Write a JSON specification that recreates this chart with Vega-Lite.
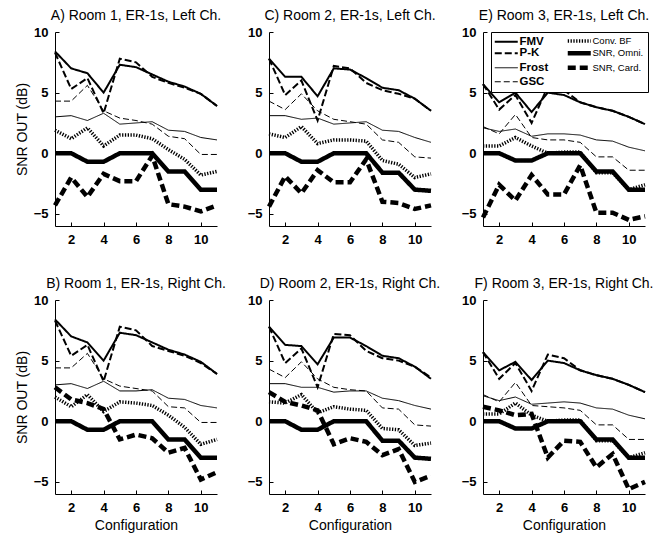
{
"$schema":"https://vega.github.io/schema/vega-lite/v6.json",
"padding":{"left":15,"top":9,"right":5,"bottom":5},
"data":{"values":[
{"p":"A","s":"FMV","x":1,"v":8.4},{"p":"A","s":"FMV","x":2,"v":7.0},{"p":"A","s":"FMV","x":3,"v":6.6},{"p":"A","s":"FMV","x":4,"v":5.0},{"p":"A","s":"FMV","x":5,"v":7.3},{"p":"A","s":"FMV","x":6,"v":7.1},{"p":"A","s":"FMV","x":7,"v":6.5},{"p":"A","s":"FMV","x":8,"v":5.9},{"p":"A","s":"FMV","x":9,"v":5.5},{"p":"A","s":"FMV","x":10,"v":4.9},{"p":"A","s":"FMV","x":11,"v":3.9},
{"p":"A","s":"P-K","x":1,"v":8.3},{"p":"A","s":"P-K","x":2,"v":5.3},{"p":"A","s":"P-K","x":3,"v":6.2},{"p":"A","s":"P-K","x":4,"v":3.3},{"p":"A","s":"P-K","x":5,"v":7.8},{"p":"A","s":"P-K","x":6,"v":7.5},{"p":"A","s":"P-K","x":7,"v":6.3},{"p":"A","s":"P-K","x":8,"v":5.8},{"p":"A","s":"P-K","x":9,"v":5.4},{"p":"A","s":"P-K","x":10,"v":4.9},{"p":"A","s":"P-K","x":11,"v":3.9},
{"p":"A","s":"Frost","x":1,"v":3.0},{"p":"A","s":"Frost","x":2,"v":3.1},{"p":"A","s":"Frost","x":3,"v":2.7},{"p":"A","s":"Frost","x":4,"v":3.3},{"p":"A","s":"Frost","x":5,"v":2.4},{"p":"A","s":"Frost","x":6,"v":2.5},{"p":"A","s":"Frost","x":7,"v":2.6},{"p":"A","s":"Frost","x":8,"v":1.9},{"p":"A","s":"Frost","x":9,"v":1.8},{"p":"A","s":"Frost","x":10,"v":1.3},{"p":"A","s":"Frost","x":11,"v":1.1},
{"p":"A","s":"GSC","x":1,"v":4.3},{"p":"A","s":"GSC","x":2,"v":4.3},{"p":"A","s":"GSC","x":3,"v":5.6},{"p":"A","s":"GSC","x":4,"v":3.5},{"p":"A","s":"GSC","x":5,"v":2.9},{"p":"A","s":"GSC","x":6,"v":2.7},{"p":"A","s":"GSC","x":7,"v":2.4},{"p":"A","s":"GSC","x":8,"v":1.4},{"p":"A","s":"GSC","x":9,"v":1.2},{"p":"A","s":"GSC","x":10,"v":-0.1},{"p":"A","s":"GSC","x":11,"v":-0.1},
{"p":"A","s":"Conv. BF","x":1,"v":1.9},{"p":"A","s":"Conv. BF","x":2,"v":1.2},{"p":"A","s":"Conv. BF","x":3,"v":2.1},{"p":"A","s":"Conv. BF","x":4,"v":0.6},{"p":"A","s":"Conv. BF","x":5,"v":1.5},{"p":"A","s":"Conv. BF","x":6,"v":1.5},{"p":"A","s":"Conv. BF","x":7,"v":1.2},{"p":"A","s":"Conv. BF","x":8,"v":0.3},{"p":"A","s":"Conv. BF","x":9,"v":-0.5},{"p":"A","s":"Conv. BF","x":10,"v":-1.8},{"p":"A","s":"Conv. BF","x":11,"v":-1.5},
{"p":"A","s":"SNR, Omni.","x":1,"v":0},{"p":"A","s":"SNR, Omni.","x":2,"v":0},{"p":"A","s":"SNR, Omni.","x":3,"v":-0.7},{"p":"A","s":"SNR, Omni.","x":4,"v":-0.7},{"p":"A","s":"SNR, Omni.","x":5,"v":0},{"p":"A","s":"SNR, Omni.","x":6,"v":0},{"p":"A","s":"SNR, Omni.","x":7,"v":0},{"p":"A","s":"SNR, Omni.","x":8,"v":-1.5},{"p":"A","s":"SNR, Omni.","x":9,"v":-1.5},{"p":"A","s":"SNR, Omni.","x":10,"v":-3.0},{"p":"A","s":"SNR, Omni.","x":11,"v":-3.0},
{"p":"A","s":"SNR, Card.","x":1,"v":-4.3},{"p":"A","s":"SNR, Card.","x":2,"v":-2.0},{"p":"A","s":"SNR, Card.","x":3,"v":-3.6},{"p":"A","s":"SNR, Card.","x":4,"v":-1.7},{"p":"A","s":"SNR, Card.","x":5,"v":-2.3},{"p":"A","s":"SNR, Card.","x":6,"v":-2.3},{"p":"A","s":"SNR, Card.","x":7,"v":-0.2},{"p":"A","s":"SNR, Card.","x":8,"v":-4.2},{"p":"A","s":"SNR, Card.","x":9,"v":-4.4},{"p":"A","s":"SNR, Card.","x":10,"v":-4.8},{"p":"A","s":"SNR, Card.","x":11,"v":-4.3},
{"p":"B","s":"FMV","x":1,"v":8.4},{"p":"B","s":"FMV","x":2,"v":7.0},{"p":"B","s":"FMV","x":3,"v":6.5},{"p":"B","s":"FMV","x":4,"v":5.0},{"p":"B","s":"FMV","x":5,"v":7.3},{"p":"B","s":"FMV","x":6,"v":7.1},{"p":"B","s":"FMV","x":7,"v":6.5},{"p":"B","s":"FMV","x":8,"v":5.9},{"p":"B","s":"FMV","x":9,"v":5.5},{"p":"B","s":"FMV","x":10,"v":4.9},{"p":"B","s":"FMV","x":11,"v":3.9},
{"p":"B","s":"P-K","x":1,"v":8.3},{"p":"B","s":"P-K","x":2,"v":5.4},{"p":"B","s":"P-K","x":3,"v":6.3},{"p":"B","s":"P-K","x":4,"v":3.3},{"p":"B","s":"P-K","x":5,"v":7.8},{"p":"B","s":"P-K","x":6,"v":7.5},{"p":"B","s":"P-K","x":7,"v":6.2},{"p":"B","s":"P-K","x":8,"v":5.8},{"p":"B","s":"P-K","x":9,"v":5.4},{"p":"B","s":"P-K","x":10,"v":4.8},{"p":"B","s":"P-K","x":11,"v":3.9},
{"p":"B","s":"Frost","x":1,"v":3.0},{"p":"B","s":"Frost","x":2,"v":3.1},{"p":"B","s":"Frost","x":3,"v":2.7},{"p":"B","s":"Frost","x":4,"v":3.3},{"p":"B","s":"Frost","x":5,"v":2.5},{"p":"B","s":"Frost","x":6,"v":2.5},{"p":"B","s":"Frost","x":7,"v":2.6},{"p":"B","s":"Frost","x":8,"v":1.9},{"p":"B","s":"Frost","x":9,"v":1.8},{"p":"B","s":"Frost","x":10,"v":1.3},{"p":"B","s":"Frost","x":11,"v":1.1},
{"p":"B","s":"GSC","x":1,"v":4.4},{"p":"B","s":"GSC","x":2,"v":4.4},{"p":"B","s":"GSC","x":3,"v":5.6},{"p":"B","s":"GSC","x":4,"v":3.5},{"p":"B","s":"GSC","x":5,"v":2.9},{"p":"B","s":"GSC","x":6,"v":2.7},{"p":"B","s":"GSC","x":7,"v":2.5},{"p":"B","s":"GSC","x":8,"v":1.2},{"p":"B","s":"GSC","x":9,"v":1.1},{"p":"B","s":"GSC","x":10,"v":-0.1},{"p":"B","s":"GSC","x":11,"v":-0.1},
{"p":"B","s":"Conv. BF","x":1,"v":2.0},{"p":"B","s":"Conv. BF","x":2,"v":1.2},{"p":"B","s":"Conv. BF","x":3,"v":2.2},{"p":"B","s":"Conv. BF","x":4,"v":0.8},{"p":"B","s":"Conv. BF","x":5,"v":1.6},{"p":"B","s":"Conv. BF","x":6,"v":1.5},{"p":"B","s":"Conv. BF","x":7,"v":1.3},{"p":"B","s":"Conv. BF","x":8,"v":0.5},{"p":"B","s":"Conv. BF","x":9,"v":-0.5},{"p":"B","s":"Conv. BF","x":10,"v":-1.9},{"p":"B","s":"Conv. BF","x":11,"v":-1.5},
{"p":"B","s":"SNR, Omni.","x":1,"v":0},{"p":"B","s":"SNR, Omni.","x":2,"v":0},{"p":"B","s":"SNR, Omni.","x":3,"v":-0.7},{"p":"B","s":"SNR, Omni.","x":4,"v":-0.7},{"p":"B","s":"SNR, Omni.","x":5,"v":0},{"p":"B","s":"SNR, Omni.","x":6,"v":0},{"p":"B","s":"SNR, Omni.","x":7,"v":0},{"p":"B","s":"SNR, Omni.","x":8,"v":-1.5},{"p":"B","s":"SNR, Omni.","x":9,"v":-1.5},{"p":"B","s":"SNR, Omni.","x":10,"v":-3.0},{"p":"B","s":"SNR, Omni.","x":11,"v":-3.0},
{"p":"B","s":"SNR, Card.","x":1,"v":2.8},{"p":"B","s":"SNR, Card.","x":2,"v":1.8},{"p":"B","s":"SNR, Card.","x":3,"v":1.5},{"p":"B","s":"SNR, Card.","x":4,"v":1.0},{"p":"B","s":"SNR, Card.","x":5,"v":-1.5},{"p":"B","s":"SNR, Card.","x":6,"v":-1.1},{"p":"B","s":"SNR, Card.","x":7,"v":-1.4},{"p":"B","s":"SNR, Card.","x":8,"v":-2.6},{"p":"B","s":"SNR, Card.","x":9,"v":-2.2},{"p":"B","s":"SNR, Card.","x":10,"v":-4.8},{"p":"B","s":"SNR, Card.","x":11,"v":-4.2},
{"p":"C","s":"FMV","x":1,"v":7.8},{"p":"C","s":"FMV","x":2,"v":6.3},{"p":"C","s":"FMV","x":3,"v":6.3},{"p":"C","s":"FMV","x":4,"v":4.7},{"p":"C","s":"FMV","x":5,"v":7.0},{"p":"C","s":"FMV","x":6,"v":6.9},{"p":"C","s":"FMV","x":7,"v":6.2},{"p":"C","s":"FMV","x":8,"v":5.4},{"p":"C","s":"FMV","x":9,"v":5.2},{"p":"C","s":"FMV","x":10,"v":4.5},{"p":"C","s":"FMV","x":11,"v":3.5},
{"p":"C","s":"P-K","x":1,"v":7.8},{"p":"C","s":"P-K","x":2,"v":4.8},{"p":"C","s":"P-K","x":3,"v":6.0},{"p":"C","s":"P-K","x":4,"v":2.7},{"p":"C","s":"P-K","x":5,"v":7.2},{"p":"C","s":"P-K","x":6,"v":7.0},{"p":"C","s":"P-K","x":7,"v":5.8},{"p":"C","s":"P-K","x":8,"v":5.2},{"p":"C","s":"P-K","x":9,"v":4.9},{"p":"C","s":"P-K","x":10,"v":4.5},{"p":"C","s":"P-K","x":11,"v":3.5},
{"p":"C","s":"Frost","x":1,"v":3.1},{"p":"C","s":"Frost","x":2,"v":3.1},{"p":"C","s":"Frost","x":3,"v":2.8},{"p":"C","s":"Frost","x":4,"v":2.9},{"p":"C","s":"Frost","x":5,"v":2.4},{"p":"C","s":"Frost","x":6,"v":2.5},{"p":"C","s":"Frost","x":7,"v":2.6},{"p":"C","s":"Frost","x":8,"v":1.9},{"p":"C","s":"Frost","x":9,"v":1.8},{"p":"C","s":"Frost","x":10,"v":1.3},{"p":"C","s":"Frost","x":11,"v":0.9},
{"p":"C","s":"GSC","x":1,"v":4.3},{"p":"C","s":"GSC","x":2,"v":3.6},{"p":"C","s":"GSC","x":3,"v":4.9},{"p":"C","s":"GSC","x":4,"v":3.5},{"p":"C","s":"GSC","x":5,"v":2.8},{"p":"C","s":"GSC","x":6,"v":2.6},{"p":"C","s":"GSC","x":7,"v":2.4},{"p":"C","s":"GSC","x":8,"v":1.1},{"p":"C","s":"GSC","x":9,"v":0.9},{"p":"C","s":"GSC","x":10,"v":-0.3},{"p":"C","s":"GSC","x":11,"v":-0.4},
{"p":"C","s":"Conv. BF","x":1,"v":1.6},{"p":"C","s":"Conv. BF","x":2,"v":1.3},{"p":"C","s":"Conv. BF","x":3,"v":2.2},{"p":"C","s":"Conv. BF","x":4,"v":0.8},{"p":"C","s":"Conv. BF","x":5,"v":1.1},{"p":"C","s":"Conv. BF","x":6,"v":1.1},{"p":"C","s":"Conv. BF","x":7,"v":1.0},{"p":"C","s":"Conv. BF","x":8,"v":-0.6},{"p":"C","s":"Conv. BF","x":9,"v":-0.9},{"p":"C","s":"Conv. BF","x":10,"v":-2.0},{"p":"C","s":"Conv. BF","x":11,"v":-1.7},
{"p":"C","s":"SNR, Omni.","x":1,"v":0},{"p":"C","s":"SNR, Omni.","x":2,"v":0},{"p":"C","s":"SNR, Omni.","x":3,"v":-0.7},{"p":"C","s":"SNR, Omni.","x":4,"v":-0.7},{"p":"C","s":"SNR, Omni.","x":5,"v":0},{"p":"C","s":"SNR, Omni.","x":6,"v":0},{"p":"C","s":"SNR, Omni.","x":7,"v":0},{"p":"C","s":"SNR, Omni.","x":8,"v":-1.6},{"p":"C","s":"SNR, Omni.","x":9,"v":-1.6},{"p":"C","s":"SNR, Omni.","x":10,"v":-3.0},{"p":"C","s":"SNR, Omni.","x":11,"v":-3.1},
{"p":"C","s":"SNR, Card.","x":1,"v":-4.4},{"p":"C","s":"SNR, Card.","x":2,"v":-1.9},{"p":"C","s":"SNR, Card.","x":3,"v":-3.3},{"p":"C","s":"SNR, Card.","x":4,"v":-1.4},{"p":"C","s":"SNR, Card.","x":5,"v":-2.4},{"p":"C","s":"SNR, Card.","x":6,"v":-2.4},{"p":"C","s":"SNR, Card.","x":7,"v":-0.5},{"p":"C","s":"SNR, Card.","x":8,"v":-4.0},{"p":"C","s":"SNR, Card.","x":9,"v":-4.1},{"p":"C","s":"SNR, Card.","x":10,"v":-4.6},{"p":"C","s":"SNR, Card.","x":11,"v":-4.3},
{"p":"D","s":"FMV","x":1,"v":7.8},{"p":"D","s":"FMV","x":2,"v":6.3},{"p":"D","s":"FMV","x":3,"v":6.2},{"p":"D","s":"FMV","x":4,"v":4.7},{"p":"D","s":"FMV","x":5,"v":6.9},{"p":"D","s":"FMV","x":6,"v":6.9},{"p":"D","s":"FMV","x":7,"v":6.2},{"p":"D","s":"FMV","x":8,"v":5.4},{"p":"D","s":"FMV","x":9,"v":5.2},{"p":"D","s":"FMV","x":10,"v":4.5},{"p":"D","s":"FMV","x":11,"v":3.5},
{"p":"D","s":"P-K","x":1,"v":7.8},{"p":"D","s":"P-K","x":2,"v":4.8},{"p":"D","s":"P-K","x":3,"v":6.0},{"p":"D","s":"P-K","x":4,"v":2.8},{"p":"D","s":"P-K","x":5,"v":7.2},{"p":"D","s":"P-K","x":6,"v":7.1},{"p":"D","s":"P-K","x":7,"v":5.8},{"p":"D","s":"P-K","x":8,"v":5.2},{"p":"D","s":"P-K","x":9,"v":5.0},{"p":"D","s":"P-K","x":10,"v":4.5},{"p":"D","s":"P-K","x":11,"v":3.6},
{"p":"D","s":"Frost","x":1,"v":3.1},{"p":"D","s":"Frost","x":2,"v":3.1},{"p":"D","s":"Frost","x":3,"v":2.8},{"p":"D","s":"Frost","x":4,"v":2.8},{"p":"D","s":"Frost","x":5,"v":2.4},{"p":"D","s":"Frost","x":6,"v":2.5},{"p":"D","s":"Frost","x":7,"v":2.5},{"p":"D","s":"Frost","x":8,"v":1.9},{"p":"D","s":"Frost","x":9,"v":1.7},{"p":"D","s":"Frost","x":10,"v":1.3},{"p":"D","s":"Frost","x":11,"v":1.0},
{"p":"D","s":"GSC","x":1,"v":4.3},{"p":"D","s":"GSC","x":2,"v":3.6},{"p":"D","s":"GSC","x":3,"v":4.9},{"p":"D","s":"GSC","x":4,"v":3.5},{"p":"D","s":"GSC","x":5,"v":2.8},{"p":"D","s":"GSC","x":6,"v":2.6},{"p":"D","s":"GSC","x":7,"v":2.5},{"p":"D","s":"GSC","x":8,"v":1.1},{"p":"D","s":"GSC","x":9,"v":1.0},{"p":"D","s":"GSC","x":10,"v":-0.3},{"p":"D","s":"GSC","x":11,"v":-0.4},
{"p":"D","s":"Conv. BF","x":1,"v":1.6},{"p":"D","s":"Conv. BF","x":2,"v":1.5},{"p":"D","s":"Conv. BF","x":3,"v":2.2},{"p":"D","s":"Conv. BF","x":4,"v":0.7},{"p":"D","s":"Conv. BF","x":5,"v":1.2},{"p":"D","s":"Conv. BF","x":6,"v":1.0},{"p":"D","s":"Conv. BF","x":7,"v":0.9},{"p":"D","s":"Conv. BF","x":8,"v":-0.6},{"p":"D","s":"Conv. BF","x":9,"v":-0.7},{"p":"D","s":"Conv. BF","x":10,"v":-2.0},{"p":"D","s":"Conv. BF","x":11,"v":-1.8},
{"p":"D","s":"SNR, Omni.","x":1,"v":0},{"p":"D","s":"SNR, Omni.","x":2,"v":0},{"p":"D","s":"SNR, Omni.","x":3,"v":-0.7},{"p":"D","s":"SNR, Omni.","x":4,"v":-0.7},{"p":"D","s":"SNR, Omni.","x":5,"v":0},{"p":"D","s":"SNR, Omni.","x":6,"v":0},{"p":"D","s":"SNR, Omni.","x":7,"v":0},{"p":"D","s":"SNR, Omni.","x":8,"v":-1.6},{"p":"D","s":"SNR, Omni.","x":9,"v":-1.6},{"p":"D","s":"SNR, Omni.","x":10,"v":-3.0},{"p":"D","s":"SNR, Omni.","x":11,"v":-3.1},
{"p":"D","s":"SNR, Card.","x":1,"v":2.4},{"p":"D","s":"SNR, Card.","x":2,"v":1.6},{"p":"D","s":"SNR, Card.","x":3,"v":1.3},{"p":"D","s":"SNR, Card.","x":4,"v":0.9},{"p":"D","s":"SNR, Card.","x":5,"v":-1.9},{"p":"D","s":"SNR, Card.","x":6,"v":-1.4},{"p":"D","s":"SNR, Card.","x":7,"v":-1.7},{"p":"D","s":"SNR, Card.","x":8,"v":-2.8},{"p":"D","s":"SNR, Card.","x":9,"v":-2.3},{"p":"D","s":"SNR, Card.","x":10,"v":-5.0},{"p":"D","s":"SNR, Card.","x":11,"v":-4.5},
{"p":"E","s":"FMV","x":1,"v":5.7},{"p":"E","s":"FMV","x":2,"v":4.2},{"p":"E","s":"FMV","x":3,"v":5.0},{"p":"E","s":"FMV","x":4,"v":3.4},{"p":"E","s":"FMV","x":5,"v":5.0},{"p":"E","s":"FMV","x":6,"v":4.8},{"p":"E","s":"FMV","x":7,"v":4.2},{"p":"E","s":"FMV","x":8,"v":3.8},{"p":"E","s":"FMV","x":9,"v":3.5},{"p":"E","s":"FMV","x":10,"v":3.0},{"p":"E","s":"FMV","x":11,"v":2.4},
{"p":"E","s":"P-K","x":1,"v":5.7},{"p":"E","s":"P-K","x":2,"v":3.6},{"p":"E","s":"P-K","x":3,"v":4.8},{"p":"E","s":"P-K","x":4,"v":2.5},{"p":"E","s":"P-K","x":5,"v":5.5},{"p":"E","s":"P-K","x":6,"v":5.2},{"p":"E","s":"P-K","x":7,"v":4.2},{"p":"E","s":"P-K","x":8,"v":3.8},{"p":"E","s":"P-K","x":9,"v":3.5},{"p":"E","s":"P-K","x":10,"v":3.0},{"p":"E","s":"P-K","x":11,"v":2.4},
{"p":"E","s":"Frost","x":1,"v":2.1},{"p":"E","s":"Frost","x":2,"v":1.8},{"p":"E","s":"Frost","x":3,"v":2.0},{"p":"E","s":"Frost","x":4,"v":1.4},{"p":"E","s":"Frost","x":5,"v":1.6},{"p":"E","s":"Frost","x":6,"v":1.6},{"p":"E","s":"Frost","x":7,"v":1.5},{"p":"E","s":"Frost","x":8,"v":1.1},{"p":"E","s":"Frost","x":9,"v":1.0},{"p":"E","s":"Frost","x":10,"v":0.5},{"p":"E","s":"Frost","x":11,"v":0.2},
{"p":"E","s":"GSC","x":1,"v":2.2},{"p":"E","s":"GSC","x":2,"v":1.6},{"p":"E","s":"GSC","x":3,"v":3.2},{"p":"E","s":"GSC","x":4,"v":1.3},{"p":"E","s":"GSC","x":5,"v":1.1},{"p":"E","s":"GSC","x":6,"v":1.1},{"p":"E","s":"GSC","x":7,"v":0.9},{"p":"E","s":"GSC","x":8,"v":-0.3},{"p":"E","s":"GSC","x":9,"v":-0.3},{"p":"E","s":"GSC","x":10,"v":-1.4},{"p":"E","s":"GSC","x":11,"v":-1.4},
{"p":"E","s":"Conv. BF","x":1,"v":0.6},{"p":"E","s":"Conv. BF","x":2,"v":0.6},{"p":"E","s":"Conv. BF","x":3,"v":1.3},{"p":"E","s":"Conv. BF","x":4,"v":0.6},{"p":"E","s":"Conv. BF","x":5,"v":0.0},{"p":"E","s":"Conv. BF","x":6,"v":0.1},{"p":"E","s":"Conv. BF","x":7,"v":0.1},{"p":"E","s":"Conv. BF","x":8,"v":-1.6},{"p":"E","s":"Conv. BF","x":9,"v":-1.6},{"p":"E","s":"Conv. BF","x":10,"v":-3.0},{"p":"E","s":"Conv. BF","x":11,"v":-2.6},
{"p":"E","s":"SNR, Omni.","x":1,"v":0},{"p":"E","s":"SNR, Omni.","x":2,"v":0},{"p":"E","s":"SNR, Omni.","x":3,"v":-0.6},{"p":"E","s":"SNR, Omni.","x":4,"v":-0.6},{"p":"E","s":"SNR, Omni.","x":5,"v":0},{"p":"E","s":"SNR, Omni.","x":6,"v":0},{"p":"E","s":"SNR, Omni.","x":7,"v":0},{"p":"E","s":"SNR, Omni.","x":8,"v":-1.5},{"p":"E","s":"SNR, Omni.","x":9,"v":-1.5},{"p":"E","s":"SNR, Omni.","x":10,"v":-3.0},{"p":"E","s":"SNR, Omni.","x":11,"v":-3.0},
{"p":"E","s":"SNR, Card.","x":1,"v":-5.3},{"p":"E","s":"SNR, Card.","x":2,"v":-2.6},{"p":"E","s":"SNR, Card.","x":3,"v":-3.9},{"p":"E","s":"SNR, Card.","x":4,"v":-1.8},{"p":"E","s":"SNR, Card.","x":5,"v":-3.4},{"p":"E","s":"SNR, Card.","x":6,"v":-3.4},{"p":"E","s":"SNR, Card.","x":7,"v":-1.0},{"p":"E","s":"SNR, Card.","x":8,"v":-4.9},{"p":"E","s":"SNR, Card.","x":9,"v":-4.9},{"p":"E","s":"SNR, Card.","x":10,"v":-5.5},{"p":"E","s":"SNR, Card.","x":11,"v":-5.2},
{"p":"F","s":"FMV","x":1,"v":5.7},{"p":"F","s":"FMV","x":2,"v":4.2},{"p":"F","s":"FMV","x":3,"v":4.9},{"p":"F","s":"FMV","x":4,"v":3.4},{"p":"F","s":"FMV","x":5,"v":5.0},{"p":"F","s":"FMV","x":6,"v":4.8},{"p":"F","s":"FMV","x":7,"v":4.2},{"p":"F","s":"FMV","x":8,"v":3.8},{"p":"F","s":"FMV","x":9,"v":3.5},{"p":"F","s":"FMV","x":10,"v":3.0},{"p":"F","s":"FMV","x":11,"v":2.4},
{"p":"F","s":"P-K","x":1,"v":5.7},{"p":"F","s":"P-K","x":2,"v":3.5},{"p":"F","s":"P-K","x":3,"v":4.8},{"p":"F","s":"P-K","x":4,"v":2.5},{"p":"F","s":"P-K","x":5,"v":5.5},{"p":"F","s":"P-K","x":6,"v":5.2},{"p":"F","s":"P-K","x":7,"v":4.2},{"p":"F","s":"P-K","x":8,"v":3.8},{"p":"F","s":"P-K","x":9,"v":3.5},{"p":"F","s":"P-K","x":10,"v":3.0},{"p":"F","s":"P-K","x":11,"v":2.4},
{"p":"F","s":"Frost","x":1,"v":2.1},{"p":"F","s":"Frost","x":2,"v":1.7},{"p":"F","s":"Frost","x":3,"v":2.0},{"p":"F","s":"Frost","x":4,"v":1.4},{"p":"F","s":"Frost","x":5,"v":1.5},{"p":"F","s":"Frost","x":6,"v":1.6},{"p":"F","s":"Frost","x":7,"v":1.5},{"p":"F","s":"Frost","x":8,"v":1.1},{"p":"F","s":"Frost","x":9,"v":1.0},{"p":"F","s":"Frost","x":10,"v":0.5},{"p":"F","s":"Frost","x":11,"v":0.2},
{"p":"F","s":"GSC","x":1,"v":2.2},{"p":"F","s":"GSC","x":2,"v":1.6},{"p":"F","s":"GSC","x":3,"v":3.2},{"p":"F","s":"GSC","x":4,"v":1.3},{"p":"F","s":"GSC","x":5,"v":1.2},{"p":"F","s":"GSC","x":6,"v":1.1},{"p":"F","s":"GSC","x":7,"v":0.9},{"p":"F","s":"GSC","x":8,"v":-0.3},{"p":"F","s":"GSC","x":9,"v":-0.3},{"p":"F","s":"GSC","x":10,"v":-1.5},{"p":"F","s":"GSC","x":11,"v":-1.5},
{"p":"F","s":"Conv. BF","x":1,"v":0.6},{"p":"F","s":"Conv. BF","x":2,"v":0.6},{"p":"F","s":"Conv. BF","x":3,"v":1.5},{"p":"F","s":"Conv. BF","x":4,"v":0.5},{"p":"F","s":"Conv. BF","x":5,"v":0.0},{"p":"F","s":"Conv. BF","x":6,"v":0.1},{"p":"F","s":"Conv. BF","x":7,"v":0.1},{"p":"F","s":"Conv. BF","x":8,"v":-1.6},{"p":"F","s":"Conv. BF","x":9,"v":-1.6},{"p":"F","s":"Conv. BF","x":10,"v":-3.0},{"p":"F","s":"Conv. BF","x":11,"v":-2.6},
{"p":"F","s":"SNR, Omni.","x":1,"v":0},{"p":"F","s":"SNR, Omni.","x":2,"v":0},{"p":"F","s":"SNR, Omni.","x":3,"v":-0.6},{"p":"F","s":"SNR, Omni.","x":4,"v":-0.6},{"p":"F","s":"SNR, Omni.","x":5,"v":0},{"p":"F","s":"SNR, Omni.","x":6,"v":0},{"p":"F","s":"SNR, Omni.","x":7,"v":0},{"p":"F","s":"SNR, Omni.","x":8,"v":-1.5},{"p":"F","s":"SNR, Omni.","x":9,"v":-1.5},{"p":"F","s":"SNR, Omni.","x":10,"v":-3.0},{"p":"F","s":"SNR, Omni.","x":11,"v":-3.0},
{"p":"F","s":"SNR, Card.","x":1,"v":1.2},{"p":"F","s":"SNR, Card.","x":2,"v":0.9},{"p":"F","s":"SNR, Card.","x":3,"v":0.5},{"p":"F","s":"SNR, Card.","x":4,"v":0.6},{"p":"F","s":"SNR, Card.","x":5,"v":-3.0},{"p":"F","s":"SNR, Card.","x":6,"v":-1.6},{"p":"F","s":"SNR, Card.","x":7,"v":-1.7},{"p":"F","s":"SNR, Card.","x":8,"v":-3.8},{"p":"F","s":"SNR, Card.","x":9,"v":-2.7},{"p":"F","s":"SNR, Card.","x":10,"v":-5.6},{"p":"F","s":"SNR, Card.","x":11,"v":-5.0}
]},
"columns":3,
"spacing":{"row":74,"column":52},
"bounds":"flush",
"resolve":{"legend":{"strokeDash":"independent"}},
"concat":[
{"width":162,"height":194,"title":"A) Room 1, ER-1s, Left Ch.","transform":[{"filter":"datum.p==='A'"}],"mark":{"type":"line","color":"black"},
"encoding":{"x":{"field":"x","type":"quantitative","scale":{"domain":[1,11],"nice":false},"axis":{"values":[2,4,6,8,10],"title":null}},
"y":{"field":"v","type":"quantitative","scale":{"domain":[-6,10],"nice":false},"axis":{"values":[-5,0,5,10],"title":"SNR OUT (dB)"}},
"strokeDash":{"field":"s","type":"nominal","scale":{"domain":["FMV","P-K","Frost","GSC","Conv. BF","SNR, Omni.","SNR, Card."],"range":[[1,0],[7,3],[1,0],[6,3],[1.3,1.5],[1,0],[8,4]]},"legend":null},
"strokeWidth":{"condition":[{"test":"datum.s==='Frost'||datum.s==='GSC'","value":1},{"test":"datum.s==='Conv. BF'","value":3.5},{"test":"datum.s==='SNR, Omni.'||datum.s==='SNR, Card.'","value":4.5}],"value":2}}},
{"width":162,"height":194,"title":"C) Room 2, ER-1s, Left Ch.","transform":[{"filter":"datum.p==='C'"}],"mark":{"type":"line","color":"black"},
"encoding":{"x":{"field":"x","type":"quantitative","scale":{"domain":[1,11],"nice":false},"axis":{"values":[2,4,6,8,10],"title":null}},
"y":{"field":"v","type":"quantitative","scale":{"domain":[-6,10],"nice":false},"axis":{"values":[-5,0,5,10],"title":null}},
"strokeDash":{"field":"s","type":"nominal","scale":{"domain":["FMV","P-K","Frost","GSC","Conv. BF","SNR, Omni.","SNR, Card."],"range":[[1,0],[7,3],[1,0],[6,3],[1.3,1.5],[1,0],[8,4]]},"legend":null},
"strokeWidth":{"condition":[{"test":"datum.s==='Frost'||datum.s==='GSC'","value":1},{"test":"datum.s==='Conv. BF'","value":3.5},{"test":"datum.s==='SNR, Omni.'||datum.s==='SNR, Card.'","value":4.5}],"value":2}}},
{"width":162,"height":194,"title":"E) Room 3, ER-1s, Left Ch.","transform":[{"filter":"datum.p==='E'"}],"mark":{"type":"line","color":"black"},
"encoding":{"x":{"field":"x","type":"quantitative","scale":{"domain":[1,11],"nice":false},"axis":{"values":[2,4,6,8,10],"title":null}},
"y":{"field":"v","type":"quantitative","scale":{"domain":[-6,10],"nice":false},"axis":{"values":[-5,0,5,10],"title":null}},
"strokeDash":{"field":"s","type":"nominal","scale":{"domain":["FMV","P-K","Frost","GSC","Conv. BF","SNR, Omni.","SNR, Card."],"range":[[1,0],[7,3],[1,0],[6,3],[1.3,1.5],[1,0],[8,4]]},
 "legend":{"orient":"none","legendX":8,"legendY":0,"columns":2,"title":null,"strokeColor":"black","fillColor":"white","padding":4,"cornerRadius":0,"columnPadding":9,"rowPadding":-4.5,"symbolType":"M-1,0H3.6","symbolSize":100,"labelOffset":15,"labelFont":"Liberation Sans","labelColor":"black","labelLimit":0,
  "symbolStrokeWidth":{"expr":"(datum.value==='Frost'||datum.value==='GSC') ? 1 : datum.value==='Conv. BF' ? 3.5 : (datum.value==='SNR, Omni.'||datum.value==='SNR, Card.') ? 4.5 : 2"},
  "labelFontSize":{"expr":"indexof(['FMV','P-K','Frost','GSC'], datum.value) >= 0 ? 11.5 : 9.5"},"labelFontWeight":{"expr":"indexof(['FMV','P-K','Frost','GSC'], datum.value) >= 0 ? 'bold' : 'normal'"}}},
"strokeWidth":{"condition":[{"test":"datum.s==='Frost'||datum.s==='GSC'","value":1},{"test":"datum.s==='Conv. BF'","value":3.5},{"test":"datum.s==='SNR, Omni.'||datum.s==='SNR, Card.'","value":4.5}],"value":2}}},
{"width":162,"height":194,"title":"B) Room 1, ER-1s, Right Ch.","transform":[{"filter":"datum.p==='B'"}],"mark":{"type":"line","color":"black"},
"encoding":{"x":{"field":"x","type":"quantitative","scale":{"domain":[1,11],"nice":false},"axis":{"values":[2,4,6,8,10],"title":"Configuration"}},
"y":{"field":"v","type":"quantitative","scale":{"domain":[-6,10],"nice":false},"axis":{"values":[-5,0,5,10],"title":"SNR OUT (dB)"}},
"strokeDash":{"field":"s","type":"nominal","scale":{"domain":["FMV","P-K","Frost","GSC","Conv. BF","SNR, Omni.","SNR, Card."],"range":[[1,0],[7,3],[1,0],[6,3],[1.3,1.5],[1,0],[8,4]]},"legend":null},
"strokeWidth":{"condition":[{"test":"datum.s==='Frost'||datum.s==='GSC'","value":1},{"test":"datum.s==='Conv. BF'","value":3.5},{"test":"datum.s==='SNR, Omni.'||datum.s==='SNR, Card.'","value":4.5}],"value":2}}},
{"width":162,"height":194,"title":"D) Room 2, ER-1s, Right Ch.","transform":[{"filter":"datum.p==='D'"}],"mark":{"type":"line","color":"black"},
"encoding":{"x":{"field":"x","type":"quantitative","scale":{"domain":[1,11],"nice":false},"axis":{"values":[2,4,6,8,10],"title":"Configuration"}},
"y":{"field":"v","type":"quantitative","scale":{"domain":[-6,10],"nice":false},"axis":{"values":[-5,0,5,10],"title":null}},
"strokeDash":{"field":"s","type":"nominal","scale":{"domain":["FMV","P-K","Frost","GSC","Conv. BF","SNR, Omni.","SNR, Card."],"range":[[1,0],[7,3],[1,0],[6,3],[1.3,1.5],[1,0],[8,4]]},"legend":null},
"strokeWidth":{"condition":[{"test":"datum.s==='Frost'||datum.s==='GSC'","value":1},{"test":"datum.s==='Conv. BF'","value":3.5},{"test":"datum.s==='SNR, Omni.'||datum.s==='SNR, Card.'","value":4.5}],"value":2}}},
{"width":162,"height":194,"title":"F) Room 3, ER-1s, Right Ch.","transform":[{"filter":"datum.p==='F'"}],"mark":{"type":"line","color":"black"},
"encoding":{"x":{"field":"x","type":"quantitative","scale":{"domain":[1,11],"nice":false},"axis":{"values":[2,4,6,8,10],"title":"Configuration"}},
"y":{"field":"v","type":"quantitative","scale":{"domain":[-6,10],"nice":false},"axis":{"values":[-5,0,5,10],"title":null}},
"strokeDash":{"field":"s","type":"nominal","scale":{"domain":["FMV","P-K","Frost","GSC","Conv. BF","SNR, Omni.","SNR, Card."],"range":[[1,0],[7,3],[1,0],[6,3],[1.3,1.5],[1,0],[8,4]]},"legend":null},
"strokeWidth":{"condition":[{"test":"datum.s==='Frost'||datum.s==='GSC'","value":1},{"test":"datum.s==='Conv. BF'","value":3.5},{"test":"datum.s==='SNR, Omni.'||datum.s==='SNR, Card.'","value":4.5}],"value":2}}}
],
"config":{
"font":"Liberation Sans",
"view":{"stroke":null},
"axis":{"domainColor":"black","tickColor":"black","labelColor":"black","titleColor":"black","grid":false,"labelFontSize":13,"labelFontWeight":"bold","titleFontSize":14,"titleFontWeight":"normal","tickSize":-4,"labelPadding":11,"titlePadding":4,"labelFont":"Liberation Sans","titleFont":"Liberation Sans"},
"title":{"fontSize":14,"fontWeight":"normal","color":"black","font":"Liberation Sans","offset":3}
}
}
